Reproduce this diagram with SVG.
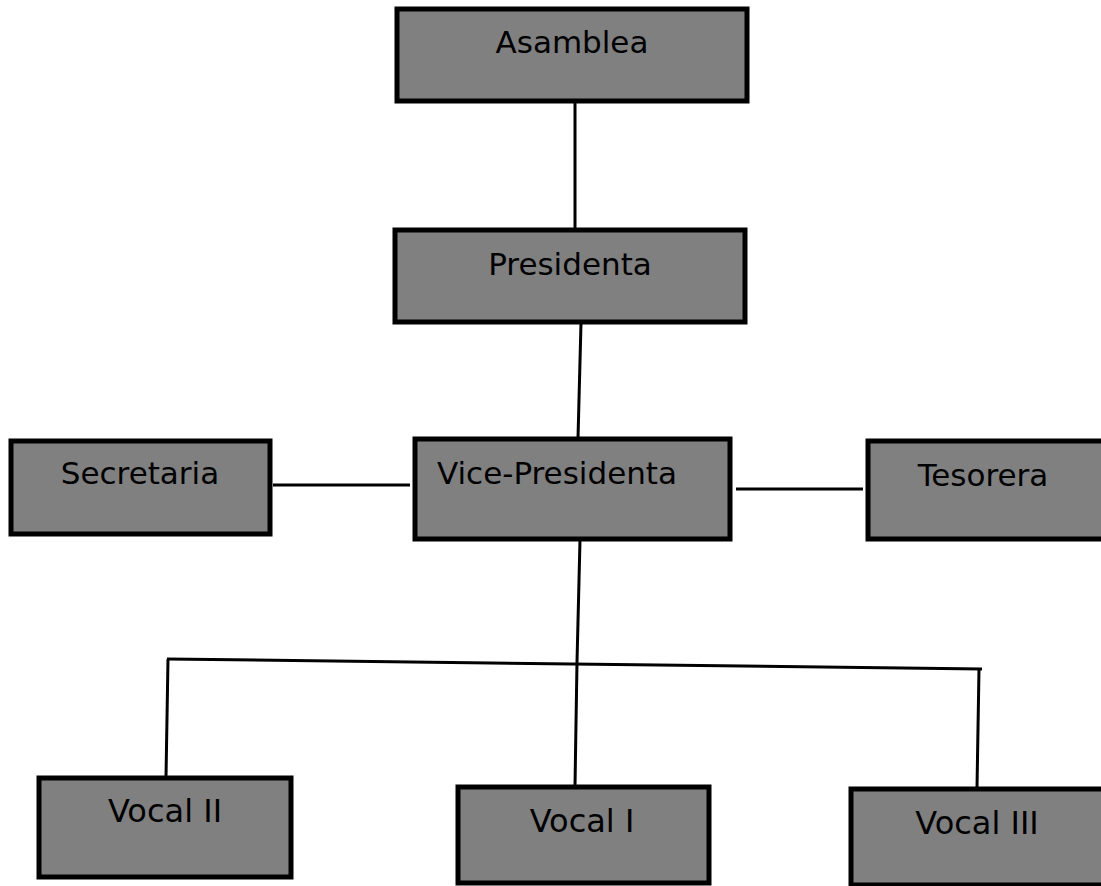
<svg xmlns="http://www.w3.org/2000/svg" width="1101" height="886" viewBox="0 0 1101 886">
  <style>
    .box { fill: #808080; stroke: #000; stroke-width: 5; }
    .lbl { font-family: "DejaVu Sans", Verdana, sans-serif; font-size: 31px; fill: #000; text-anchor: middle; }
    .vocal { font-size: 32px; }
    .conn { stroke: #000; stroke-width: 3; fill: none; }
  </style>
  <rect width="1101" height="886" fill="#fff"/>
  <g id="connectors">
    <line class="conn" x1="575" y1="102" x2="575" y2="229"/>
    <line class="conn" x1="581" y1="323" x2="578" y2="438"/>
    <line class="conn" x1="273" y1="485" x2="410" y2="485"/>
    <line class="conn" x1="736" y1="489" x2="863" y2="489"/>
    <line class="conn" x1="580" y1="540" x2="577" y2="662"/>
    <line class="conn" x1="167" y1="659" x2="982" y2="669"/>
    <line class="conn" x1="168" y1="659" x2="166" y2="777"/>
    <line class="conn" x1="577" y1="662" x2="575" y2="786"/>
    <line class="conn" x1="979" y1="669" x2="977" y2="788"/>
  </g>
  <g id="asamblea">
    <rect class="box" x="397" y="9" width="350" height="92"/>
    <text class="lbl" x="572" y="53">Asamblea</text>
  </g>
  <g id="presidenta">
    <rect class="box" x="395" y="230" width="350" height="92"/>
    <text class="lbl" x="570" y="275">Presidenta</text>
  </g>
  <g id="vice-presidenta">
    <rect class="box" x="415" y="439" width="315" height="100"/>
    <text class="lbl" x="557" y="484">Vice-Presidenta</text>
  </g>
  <g id="secretaria">
    <rect class="box" x="11" y="441" width="259" height="93"/>
    <text class="lbl" x="140" y="484">Secretaria</text>
  </g>
  <g id="tesorera">
    <rect class="box" x="868" y="441" width="236" height="98"/>
    <text class="lbl" x="983" y="486">Tesorera</text>
  </g>
  <g id="vocal-ii">
    <rect class="box" x="39" y="778" width="252" height="99"/>
    <text class="lbl vocal" x="165" y="822">Vocal II</text>
  </g>
  <g id="vocal-i">
    <rect class="box" x="458" y="787" width="251" height="96"/>
    <text class="lbl vocal" x="582" y="832">Vocal I</text>
  </g>
  <g id="vocal-iii">
    <rect class="box" x="851" y="789" width="253" height="96"/>
    <text class="lbl vocal" x="977" y="834">Vocal III</text>
  </g>
</svg>
